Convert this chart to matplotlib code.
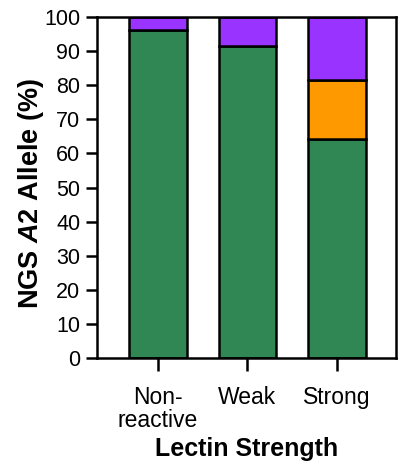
import matplotlib
matplotlib.use("Agg")
import matplotlib.pyplot as plt
import numpy as np

plt.rcParams['font.family'] = ['Liberation Sans', 'DejaVu Sans']
plt.rcParams['mathtext.fontset'] = 'custom'
plt.rcParams['mathtext.it'] = 'Liberation Sans:italic:bold'
plt.rcParams['mathtext.rm'] = 'Liberation Sans:bold'

categories = ["Non-\nreactive", "Weak", "Strong"]
green_vals = [96.3, 91.6, 64.3]
orange_vals = [0.0, 0.0, 17.2]
purple_vals = [3.7, 8.4, 18.5]

colors = {"green": "#318754", "orange": "#FF9900", "purple": "#9933FF"}

fig = plt.figure(figsize=(4.0, 4.61), dpi=100)
ax = fig.add_axes([0.2425, 0.2234, 0.7475, 0.7396])

x = np.arange(len(categories))
w = 0.64
lw = 1.8
ax.bar(x, green_vals, w, color=colors["green"], edgecolor="black", linewidth=lw, zorder=2)
bottom2 = np.array(green_vals)
mask = np.array(orange_vals) > 0
ax.bar(x[mask], np.array(orange_vals)[mask], w, bottom=bottom2[mask],
       color=colors["orange"], edgecolor="black", linewidth=lw, zorder=2)
bottom3 = bottom2 + np.array(orange_vals)
ax.bar(x, purple_vals, w, bottom=bottom3, color=colors["purple"],
       edgecolor="black", linewidth=lw, zorder=2)

ax.set_xlim(-0.68, 2.66)
ax.set_ylim(0, 100)
ax.set_yticks(np.arange(0, 101, 10))
ax.set_xticks(x)
ax.set_xticklabels(categories, fontsize=16.5, linespacing=1.0)
ax.tick_params(axis='y', labelsize=15.5, width=1.8, length=8, pad=4)
ax.tick_params(axis='x', width=1.8, length=9, pad=11)
for s in ax.spines.values():
    s.set_linewidth(1.8)

fig.text(31 / 400, 1 - 193 / 461, r"NGS $\mathit{A2}$ Allele (%)", fontsize=19.5,
         fontweight='bold', rotation=90, ha='center', va='center')
ax.set_xlabel("Lectin Strength", fontsize=18, fontweight='bold', labelpad=3.5)

fig.savefig("out.png", dpi=100)
